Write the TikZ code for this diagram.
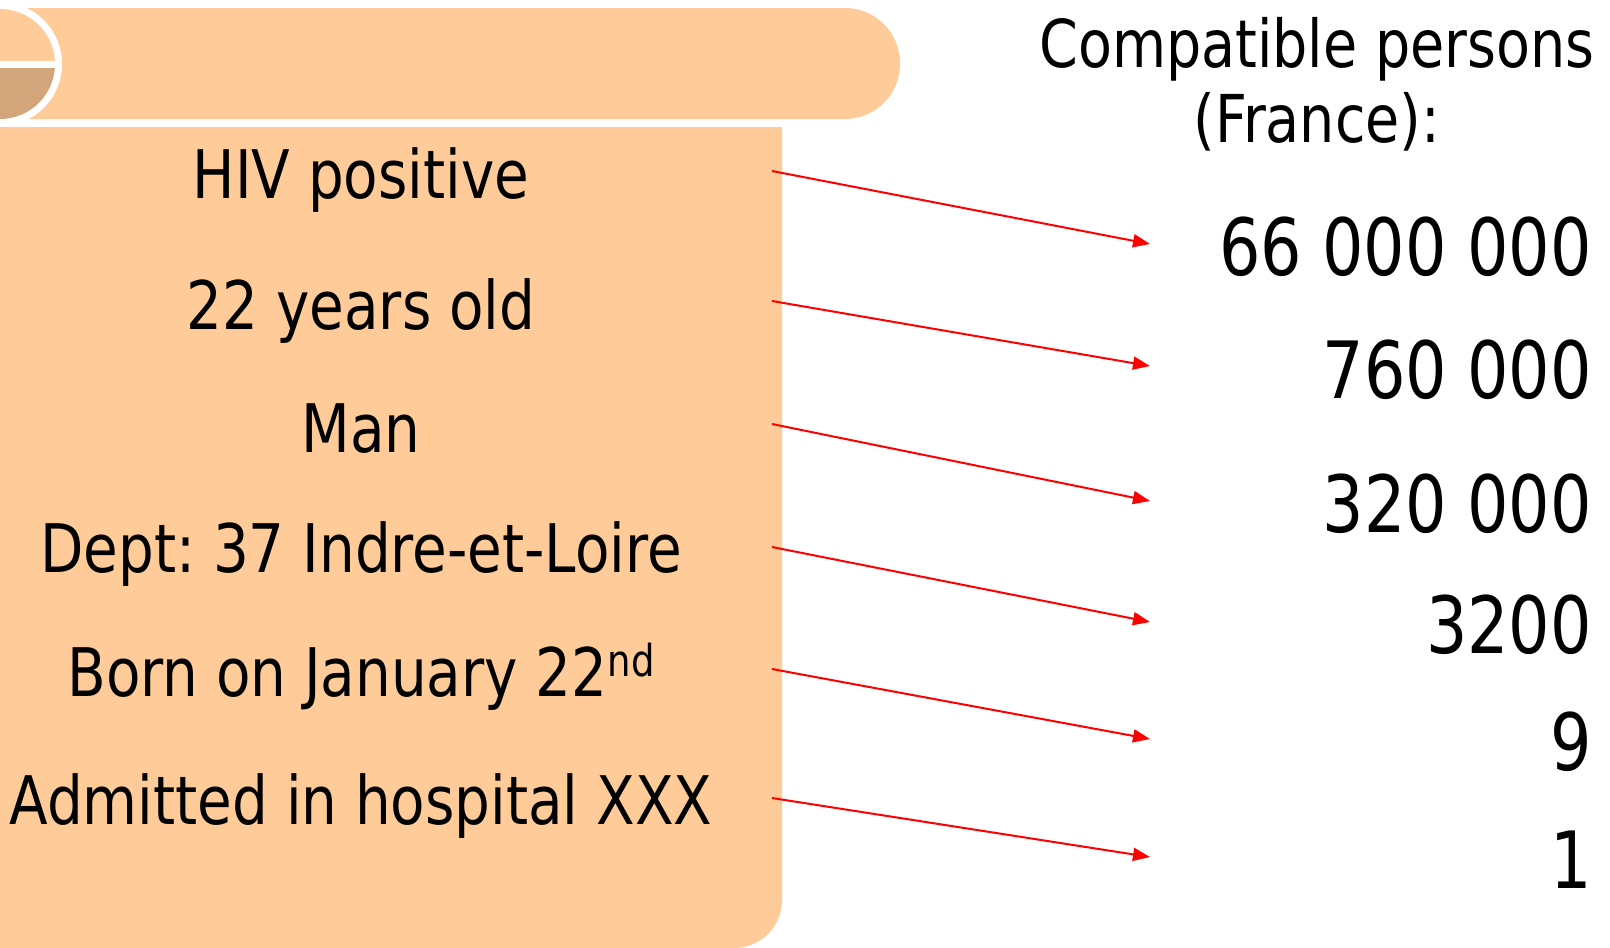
\documentclass[tikz,border=0pt]{standalone}
\usepackage{fontspec}
\setmainfont{DejaVu Sans Condensed}[FakeStretch=0.935]
\newfontfamily\numfont{DejaVu Sans Condensed}[FakeStretch=0.916]
\usetikzlibrary{arrows.meta}
\definecolor{peach}{HTML}{FFCC99}
\definecolor{tan}{HTML}{D2A57A}
\definecolor{arrowred}{HTML}{FF0000}
\newcommand{\ordsup}[1]{\raisebox{20pt}{\fontsize{44}{50}\selectfont #1}}
\tikzset{
  item/.style={anchor=base, inner sep=0pt, font=\fontsize{67}{80}\selectfont},
  count/.style={anchor=base east, inner sep=0pt, font=\numfont\fontsize{79}{90}\selectfont},
  head/.style={anchor=base, inner sep=0pt, font=\fontsize{66}{78}\selectfont},
  link/.style={arrowred, line width=2pt, -{Triangle[length=17pt,width=13pt]}}
}
\begin{document}
\frenchspacing
\begin{tikzpicture}[x=1pt,y=1pt]
\useasboundingbox (0,0) rectangle (1610,-948);
% scroll top roll
\fill[peach, rounded corners=55] (-200,-8) rectangle (900,-119);
% scroll end: ringed disc, lower half shaded
\fill[white] (0,-64) circle (62);
\begin{scope}
  \clip (0,-64) circle (55);
  \fill[peach] (-60,0) rectangle (60,-64);
  \fill[tan] (-60,-64) rectangle (60,-130);
\end{scope}
\draw[white, line width=7pt] (-60,-64) -- (60,-64);
% scroll sheet
\fill[peach] (-10,-127) -- (782,-127) -- (782,-900)
  arc[start angle=0, end angle=-90, radius=48] -- (-10,-948) -- cycle;

% attributes
\node[item] (hiv)  at (361,-198) {HIV positive};
\node[item] (age)  at (361,-329) {22 years old};
\node[item] (sex)  at (361,-452) {Man};
\node[item] (dept) at (361,-572) {Dept: 37 Indre-et-Loire};
\node[item] (born) at (361,-696) {Born on January 22\ordsup{nd}};
\node[item] (hosp) at (361,-824) {Admitted in hospital XXX};

% heading
\node[head] (title1) at (1317,-67) {Compatible persons};
\node[head] (title2) at (1317,-142) {(France):};

% counts
\node[count] (n1) at (1592,-275) {66 000 000};
\node[count] (n2) at (1592,-398) {760 000};
\node[count] (n3) at (1592,-532) {320 000};
\node[count] (n4) at (1592,-653) {3200};
\node[count] (n5) at (1592,-770) {9};
\node[count] (n6) at (1592,-888) {1};

% arrows from attributes to counts
\coordinate (a1) at (772,-171);  \coordinate (b1) at (1150,-244);
\coordinate (a2) at (772,-301);  \coordinate (b2) at (1150,-366);
\coordinate (a3) at (772,-424);  \coordinate (b3) at (1150,-501);
\coordinate (a4) at (772,-547);  \coordinate (b4) at (1150,-622);
\coordinate (a5) at (772,-669);  \coordinate (b5) at (1150,-739);
\coordinate (a6) at (772,-798);  \coordinate (b6) at (1150,-857);
\foreach \i in {1,...,6} \draw[link] (a\i) -- (b\i);
\end{tikzpicture}
\end{document}
